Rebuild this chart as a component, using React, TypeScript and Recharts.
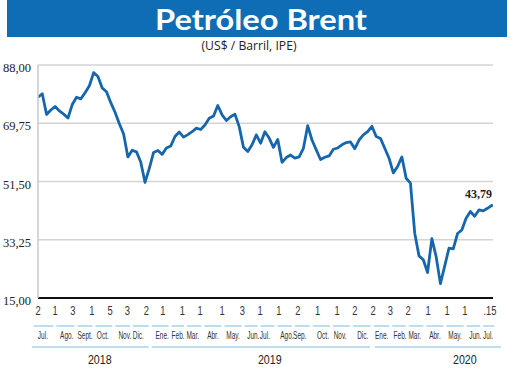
import { LineChart, Line, XAxis, YAxis, CartesianGrid } from 'recharts'

// Brent, weekly closes, starting 2 Jul 2018
const prices = [
  77.9, 79.0, 72.5, 73.9, 75.0, 73.6, 72.6, 71.4, 75.6, 77.9,
  77.4, 79.3, 81.5, 85.6, 84.4, 80.8, 79.6, 76.2, 73.2, 69.6,
  66.4, 59.2, 61.3, 60.8, 57.6, 51.2, 55.6, 60.6, 61.2, 60.0,
  62.0, 62.6, 65.6, 67.0, 65.4, 66.2, 67.1, 68.2, 67.8, 69.2,
  71.3, 72.0, 75.3, 72.4, 70.6, 71.8, 72.6, 68.7, 62.2, 60.9,
  63.0, 66.1, 63.5, 67.1, 65.1, 62.2, 64.7, 57.5, 59.0, 59.8,
  58.8, 59.2, 61.9, 69.0, 64.5, 61.4, 58.4, 59.1, 59.5, 61.6,
  62.0, 63.0, 63.7, 63.9, 61.8, 64.5, 66.1, 67.1, 68.8, 65.6,
  65.0, 61.9, 58.8, 54.2, 56.2, 59.2, 52.5, 51.0, 35.3, 28.2,
  27.0, 23.0, 33.6, 28.0, 19.5, 25.0, 30.6, 30.4, 35.2, 36.3,
  40.0, 42.1, 40.6, 42.6, 42.3, 43.1, 44.0,
]
const lastDay = 744 // 15 Jul 2020
const lastPrice = 43.79

const yTicks = [15, 33.25, 51.5, 69.75, 88]

// day offsets from 2 Jul 2018
const dayTicks = [
  0, 28, 57, 88, 118, 146, 177, 204, 236, 265, 301, 334, 363,
  394, 425, 457, 489, 518, 548, 576, 605, 638, 669, 698, 744,
]
const dayLabels = [
  '2', '1', '3', '1', '5', '3', '2', '1', '1', '1', '1', '3', '1',
  '1', '2', '1', '1', '2', '2', '3', '2', '1', '1', '1', '.15',
]
const monthTicks = [
  8, 47, 77, 106, 142, 164, 203, 229, 253, 286, 319, 352, 371,
  407, 428, 466, 494, 531, 562, 592, 616, 649, 682, 715, 736,
]
const monthLabels = [
  'Jul.', 'Ago.', 'Sept.', 'Oct.', 'Nov.', 'Dic.',
  'Ene.', 'Feb.', 'Mar.', 'Abr.', 'May.', 'Jun.', 'Jul.', 'Ago.', 'Sep.', 'Oct.', 'Nov.', 'Dic.',
  'Ene.', 'Feb.', 'Mar.', 'Abr.', 'May.', 'Jun.', 'Jul.',
]
const yearTicks = [101, 379, 698]
const yearLabels = ['2018', '2019', '2020']
const yearSpans = [[-10, 181], [186, 543], [551, 757]]

const data = prices
  .map((price, i) => ({ day: i * 7, price }))
  .concat({ day: lastDay, price: lastPrice })

const W = 520
const H = 369
const PLOT_W = 455
const pxPerDay = PLOT_W / lastDay
const BLUE = '#1566ad'
const LIGHT_BLUE = '#a9d2ea'
const fmt = (v: number) => v.toFixed(2).replace('.', ',')

const YTick = ({ y, payload }: any) => (
  <text x={31} y={y + 7} textAnchor="end" fontSize={12.5} fill="#222"
    fontFamily="'Liberation Serif', serif">
    {fmt(payload.value)}
  </text>
)

const DayTick = ({ x, y, index }: any) => {
  const last = index === dayLabels.length - 1
  return (
    <text transform={`translate(${last ? x - 3 : x},${y + 17}) scale(0.72,1)`}
      textAnchor="middle" fontSize={13} fill="#333"
      fontFamily="'Liberation Sans', sans-serif">
      {dayLabels[index]}
    </text>
  )
}

const MonthTick = ({ x, y, index }: any) => {
  const d = monthTicks[index]
  const left = index > 0 ? ((d - monthTicks[index - 1]) / 2) * pxPerDay - 1.5 : 9
  const right = index < monthTicks.length - 1 ? ((monthTicks[index + 1] - d) / 2) * pxPerDay - 1.5 : 6
  return (
    <g>
      <line x1={x - left} x2={x + right} y1={y + 8} y2={y + 8} stroke={LIGHT_BLUE} strokeWidth={1.5} />
      <text transform={`translate(${x},${y + 21}) scale(0.62,1)`} textAnchor="middle"
        fontSize={10.5} fill="#333" fontFamily="'Liberation Sans', sans-serif">
        {monthLabels[index]}
      </text>
    </g>
  )
}

const YearTick = ({ x, y, index }: any) => {
  const d = yearTicks[index]
  const [a, b] = yearSpans[index]
  return (
    <g>
      <line x1={x + (a - d) * pxPerDay} x2={x + (b - d) * pxPerDay} y1={y - 1} y2={y - 1}
        stroke={LIGHT_BLUE} strokeWidth={1.5} />
      <text transform={`translate(${x},${y + 16}) scale(0.82,1)`} textAnchor="middle"
        fontSize={13} fill="#222" fontFamily="'Liberation Sans', sans-serif">
        {yearLabels[index]}
      </text>
    </g>
  )
}

const renderLastLabel = (props: any) => {
  if (props.index !== data.length - 1) return <g />
  return (
    <text x={props.x - 1} y={props.y - 8.5} textAnchor="end" fontSize={12} fontWeight="bold"
      fill="#222" fontFamily="'Liberation Serif', serif">
      {fmt(lastPrice)}
    </text>
  )
}

export default function App() {
  return (
    <div style={{ position: 'absolute', left: 0, top: 0, width: W, height: H, background: '#fff' }}>
      <svg width={W} height={58} style={{ position: 'absolute', left: 0, top: 0 }}>
        <rect x={7} y={0} width={500} height={37} fill="#0e6db4" />
        <text x={261} y={30} textAnchor="middle" fill="#fff" fontSize={29} fontWeight="bold"
          fontFamily="Lato, sans-serif" textLength={212} lengthAdjust="spacingAndGlyphs">
          Petróleo Brent
        </text>
        <text x={249} y={50} textAnchor="middle" fill="#222" fontSize={12.5}
          fontFamily="'Open Sans', sans-serif" textLength={95} lengthAdjust="spacingAndGlyphs">
          (US$ / Barril, IPE)
        </text>
      </svg>
      <div style={{ position: 'absolute', left: 0, top: 0 }}>
        <LineChart width={W} height={H} data={data}
          margin={{ top: 65, right: 27, left: 0, bottom: 0 }}>
          <CartesianGrid vertical={false} stroke="#d4d4d4" strokeWidth={1.5} />
          <XAxis dataKey="day" type="number" domain={[0, lastDay]} allowDataOverflow
            ticks={dayTicks} interval={0} height={20} tickSize={0} tickMargin={0}
            tickLine={false} axisLine={{ stroke: '#111', strokeWidth: 2 }} tick={<DayTick />} />
          <XAxis xAxisId="month" dataKey="day" type="number" domain={[0, lastDay]} allowDataOverflow
            ticks={monthTicks} interval={0} height={30} tickSize={0} tickMargin={0}
            tickLine={false} axisLine={false} tick={<MonthTick />} />
          <XAxis xAxisId="year" dataKey="day" type="number" domain={[0, lastDay]} allowDataOverflow
            ticks={yearTicks} interval={0} height={21} tickSize={0} tickMargin={0}
            tickLine={false} axisLine={false} tick={<YearTick />} />
          <YAxis domain={[15, 88]} ticks={yTicks} interval={0} width={38}
            tickLine={false} axisLine={{ stroke: '#c8c8c8', strokeWidth: 1.5 }} tick={<YTick />} />
          <Line dataKey="price" stroke={BLUE} strokeWidth={2.8} dot={false}
            strokeLinejoin="round" isAnimationActive={false} label={renderLastLabel} />
        </LineChart>
      </div>
    </div>
  )
}
